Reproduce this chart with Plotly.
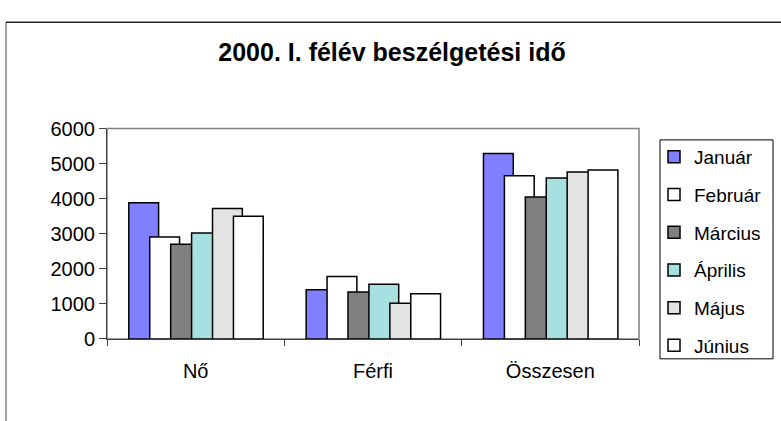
import plotly.graph_objects as go

categories = ["Nő", "Férfi", "Összesen"]
months = ["Január", "Február", "Március", "Április", "Május", "Június"]
januar = [3880, 1400, 5290]
februar = [2910, 1780, 4650]
marcius = [2700, 1340, 4050]
aprilis = [3020, 1560, 4590]
majus = [3720, 1020, 4760]
junius = [3500, 1290, 4820]
series = [januar, februar, marcius, aprilis, majus, junius]
colors = ["#8080FF", "#FFFFFF", "#808080", "#A6E0E0", "#E3E3E3", "#FFFFFF"]
y_ticks = [0, 1000, 2000, 3000, 4000, 5000, 6000]
title = "2000. I. félév beszélgetési idő"

W, H = 781, 421
FONT = "Arial, Liberation Sans, sans-serif"

bar_w = 0.168
step = 0.118
start = -0.377

fig = go.Figure()
for i, (name, vals, col) in enumerate(zip(months, series, colors)):
    fig.add_trace(go.Bar(
        x=categories, y=vals, name=name,
        marker=dict(color=col, line=dict(color="black", width=1.5)),
        width=bar_w, offset=start + i * step,
        legendgroup=name,
    ))

px0, px1 = 107, 639
py0, py1 = 124, 346

fig.update_layout(
    width=W, height=H,
    margin=dict(l=0, r=0, t=0, b=0),
    paper_bgcolor="white", plot_bgcolor="white",
    barmode="overlay",
    font=dict(family=FONT, size=20, color="black"),
    title=dict(text="<b>" + title + "</b>", x=392 / W, xanchor="center",
               y=1 - 52 / H, yanchor="middle",
               font=dict(family=FONT, size=25, color="black")),
    xaxis=dict(domain=[px0 / W, px1 / W], type="category",
               showline=True, linecolor="#404040", linewidth=1,
               ticks="outside", tickson="boundaries", ticklen=6,
               tickcolor="#404040", showgrid=False,
               ticklabelstandoff=14,
               tickfont=dict(size=20)),
    yaxis=dict(domain=[1 - py1 / H, 1 - py0 / H], range=[0, 6000],
               tickvals=y_ticks, ticktext=[str(v) for v in y_ticks],
               showline=True, linecolor="#404040", linewidth=1,
               ticks="outside", ticklen=7, tickcolor="#404040",
               showgrid=False, zeroline=False,
               tickfont=dict(size=20)),
    showlegend=True,
    legend=dict(x=654 / W, y=1 - 134 / H, xanchor="left", yanchor="top",
                borderwidth=0, bgcolor="rgba(0,0,0,0)",
                font=dict(family=FONT, size=19),
                tracegroupgap=10, traceorder="grouped"),
    shapes=[
        dict(type="rect", xref="paper", yref="paper",
             x0=px0 / W, x1=px1 / W, y0=1 - py1 / H, y1=1 - py0 / H,
             line=dict(color="#808080", width=1.5), layer="below"),
        dict(type="line", xref="paper", yref="paper",
             x0=6 / W, x1=6 / W, y0=-0.05, y1=1 - 12 / H,
             line=dict(color="#808080", width=1.5), layer="below"),
        dict(type="line", xref="paper", yref="paper",
             x0=6 / W, x1=1.05, y0=1 - 12 / H, y1=1 - 12 / H,
             line=dict(color="#202020", width=1.5), layer="below"),
        dict(type="rect", xref="paper", yref="paper",
             x0=660 / W, x1=773 / W, y0=1 - 367 / H, y1=1 - 136 / H,
             line=dict(color="black", width=1), fillcolor="white",
             layer="above"),
    ],
)

fig.write_html("out.html",
               config={"displayModeBar": False},
               post_script="document.body.style.margin='0';document.body.style.overflow='hidden';")
